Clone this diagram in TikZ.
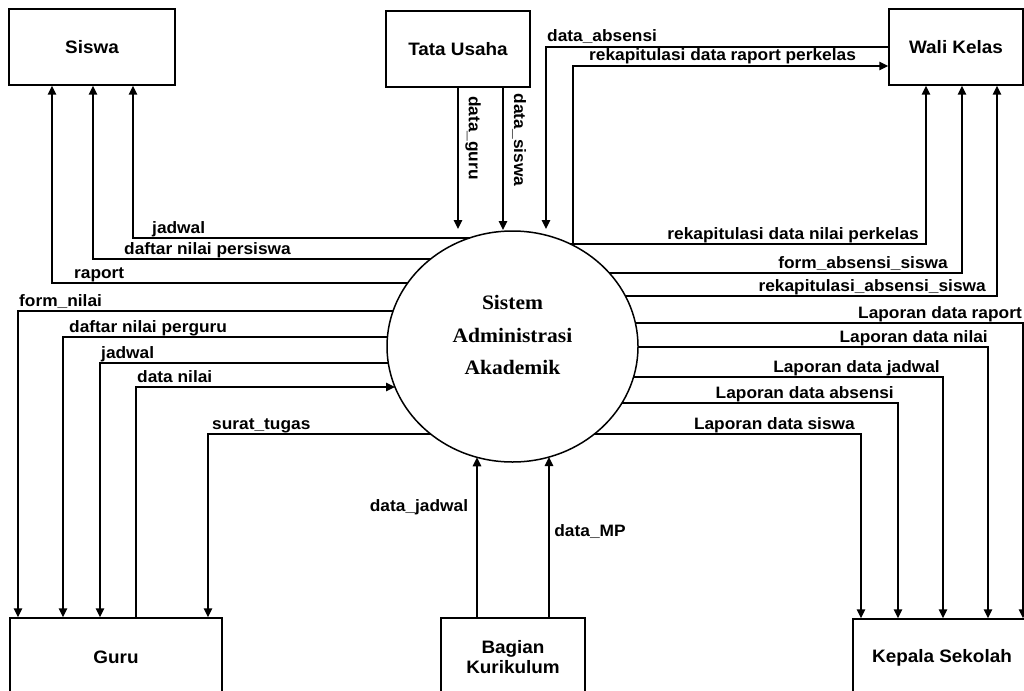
\documentclass[tikz,border=0pt]{standalone}
\usepackage{fontspec}
\setmainfont{Liberation Sans}[FakeStretch=1.05]
\newfontfamily\serifbold{Liberation Serif}[FakeStretch=1.05]
\usetikzlibrary{arrows.meta,shapes.geometric}
\begin{document}
\begin{tikzpicture}[x=1pt,y=-1pt,
  every node/.style={font=\fontsize{16.5}{20}\selectfont\bfseries},
  ent/.style={draw, line width=1.5pt, rectangle, inner sep=0pt, align=center,
    font=\fontsize{18}{20.5}\selectfont\bfseries},
  flow/.style={line width=1.5pt},
  arr/.style={flow, -{Triangle[length=9pt,width=8.5pt]}},
  lbl/.style={inner sep=0pt, anchor=base west},
  lblr/.style={inner sep=0pt, anchor=base east},
]
\fill[white] (0,0) rectangle (1024,690);
\useasboundingbox (0,0) rectangle (1024,690);
\clip (0,0) rectangle (1024,690);

% entities
\node[ent, minimum width=166pt, minimum height=76pt] (siswa) at (92,47) {Siswa};
\node[ent, minimum width=144pt, minimum height=76pt] (tu) at (458,49) {Tata Usaha};
\node[ent, minimum width=134pt, minimum height=76pt] (wali) at (956,47) {Wali Kelas};
\node[ent, minimum width=212pt, minimum height=78pt] (guru) at (116,657) {Guru};
\node[ent, minimum width=144pt, minimum height=78pt] (kur) at (513,657) {Bagian\\Kurikulum};
\node[ent, minimum width=178pt, minimum height=78pt] (kepsek) at (942,658) {Kepala Sekolah};

% process
\node[draw, ellipse, line width=1.5pt, minimum width=251pt, minimum height=231pt, inner sep=0pt] (sys) at (512.5,346.5) {};
\node[font=\fontsize{20.5}{32.5}\selectfont\serifbold\bfseries, align=center] (systxt) at (512.5,335) {Sistem\\Administrasi\\Akademik};

% points on the process border
\coordinate (sL1) at (469.5,238);
\coordinate (sL2) at (430.6,259);
\coordinate (sL3) at (407.7,283);
\coordinate (sL4) at (393.1,311);
\coordinate (sL5) at (387.4,337);
\coordinate (sL6) at (388.3,363);
\coordinate (sL7) at (395.0,387);
\coordinate (sL8) at (430.6,434);
\coordinate (sR0) at (573,245.3);
\coordinate (sR1) at (570.4,244);
\coordinate (sR2) at (609.3,273);
\coordinate (sR3) at (625.4,296);
\coordinate (sR4) at (635.4,323);
\coordinate (sR5) at (638,347);
\coordinate (sR6) at (633.5,377);
\coordinate (sR7) at (622,403);
\coordinate (sR8) at (594.4,434);
\coordinate (sT1) at (458,229);
\coordinate (sT2) at (503,230);
\coordinate (sT3) at (546,229);
\coordinate (sB1) at (477,457.3);
\coordinate (sB2) at (549,457);

% flows
\draw[arr] (sL1) -| (siswa.south -| 133,0);
\draw[arr] (sL2) -| (siswa.south -| 93,0);
\draw[arr] (sL3) -| (siswa.south -| 52,0);
\draw[arr] (sL4) -| (guru.north -| 18,0);
\draw[arr] (sL5) -| (guru.north -| 63,0);
\draw[arr] (sL6) -| (guru.north -| 100,0);
\draw[arr] (guru.north -| 136,0) |- (sL7);
\draw[arr] (sL8) -| (guru.north -| 208,0);
\draw[arr] (tu.south -| 458,0) -- (sT1);
\draw[arr] (tu.south -| 503,0) -- (sT2);
\draw[arr] (wali.west |- 0,47) -| (sT3);
\draw[arr] (sR0) |- (wali.west |- 0,66);
\draw[arr] (sR1) -| (wali.south -| 926,0);
\draw[arr] (sR2) -| (wali.south -| 962,0);
\draw[arr] (sR3) -| (wali.south -| 997,0);
\draw[arr] (sR4) -| (kepsek.north -| 1023,0);
\draw[arr] (sR5) -| (kepsek.north -| 988,0);
\draw[arr] (sR6) -| (kepsek.north -| 943,0);
\draw[arr] (sR7) -| (kepsek.north -| 898,0);
\draw[arr] (sR8) -| (kepsek.north -| 861,0);
\draw[arr] (kur.north -| 477,0) -- (sB1);
\draw[arr] (kur.north -| 549,0) -- (sB2);

% labels
\node[lbl] (l1) at (152,233) {jadwal};
\node[lbl] (l2) at (124,254) {daftar nilai persiswa};
\node[lbl] (l3) at (74,278) {raport};
\node[lbl] (l4) at (19,306) {form\_nilai};
\node[lbl] (l5) at (69,332) {daftar nilai perguru};
\node[lbl] (l6) at (101,358) {jadwal};
\node[lbl] (l7) at (137,382) {data nilai};
\node[lbl] (l8) at (212,429) {surat\_tugas};
\node[lbl] (l9) at (547,42) {data\_absensi};
\node[lbl] (l10) at (589,61) {rekapitulasi data raport perkelas};
\node[lblr] (l11) at (919,239) {rekapitulasi data nilai perkelas};
\node[lblr] (l12) at (948,268) {form\_absensi\_siswa};
\node[lblr] (l13) at (986,291) {rekapitulasi\_absensi\_siswa};
\node[lblr] (l14) at (1022,318) {Laporan data raport};
\node[lblr] (l15) at (988,342) {Laporan data nilai};
\node[lblr] (l16) at (940,372) {Laporan data jadwal};
\node[lblr] (l17) at (894,398) {Laporan data absensi};
\node[lblr] (l18) at (855,429) {Laporan data siswa};
\node (l19) at (419,507) {data\_jadwal};
\node (l20) at (590,532) {data\_MP};
\node[rotate=-90] (l21) at (473,138) {data\_guru};
\node[rotate=-90] (l22) at (519,140) {data\_siswa};
\end{tikzpicture}
\end{document}
